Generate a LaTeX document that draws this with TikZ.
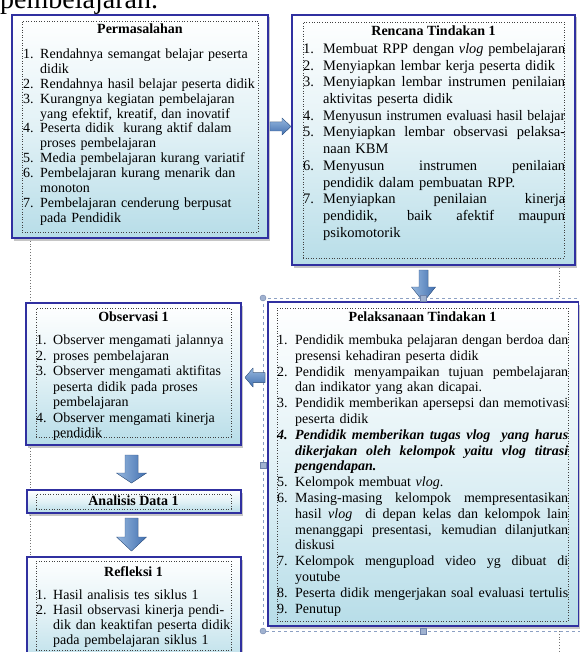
\documentclass[tikz,border=0pt]{standalone}
\usepackage{fontspec}
\setmainfont{Liberation Serif}
\usepackage{graphicx}
\usetikzlibrary{calc,shadows}

\definecolor{bxborder}{RGB}{48,48,160}
\definecolor{bxlight}{RGB}{183,221,232}
\definecolor{arrL}{RGB}{150,183,222}
\definecolor{arrD}{RGB}{66,112,176}
\definecolor{selc}{RGB}{140,160,195}
\definecolor{handlec}{RGB}{160,178,208}
\definecolor{handled}{RGB}{110,130,170}

\newsavebox\lnbox
\newlength\txtw
\newlength\numw
\newcommand\JL[1]{\sbox\lnbox{#1}\ifdim\wd\lnbox>\txtw\resizebox{\txtw}{\height}{\usebox\lnbox}\else\hbox to \txtw{\spaceskip=\fontdimen2\font plus 1fil\relax\xspaceskip=\spaceskip #1}\fi}
\newcommand\FL[1]{\sbox\lnbox{#1}\ifdim\wd\lnbox>\txtw\resizebox{\txtw}{\height}{\usebox\lnbox}\else\usebox\lnbox\fi}
\newcommand\NI[2]{\makebox[\numw][l]{#1}\FL{#2}}
\newcommand\NJ[2]{\makebox[\numw][l]{#1}\JL{#2}}
\newcommand\CI[1]{\hspace*{\numw}\FL{#1}}
\newcommand\CJ[1]{\hspace*{\numw}\JL{#1}}

% block arrow: start, end, shaft half width, head half width, head length, style
\newcommand\barrow[6]{%
  \coordinate (bH) at ($(#2)!#5!(#1)$);
  \fill[#6] ($(#1)!#3!90:(#2)$) -- ($(bH)!#3!90:(#2)$) -- ($(bH)!#4!90:(#2)$) -- (#2)
    -- ($(bH)!#4!-90:(#2)$) -- ($(bH)!#3!-90:(#2)$) -- ($(#1)!#3!-90:(#2)$) -- cycle;}

\begin{document}
\begin{tikzpicture}[x=1pt,y=1pt,
  outerbox/.style={draw=bxborder, line width=1.3pt, top color=white, bottom color=bxlight,
    middle color=bxlight!40, inner sep=0, outer sep=0, anchor=north west,
    drop shadow={shadow xshift=2pt, shadow yshift=-2.5pt, fill=black!50, opacity=.45}},
  innerbox/.style={draw=black!75, dotted, line width=0.6pt, inner sep=0, outer sep=0, anchor=north west},
  titletxt/.style={font=\fontsize{14}{16}\selectfont\bfseries, anchor=base, inner sep=0},
  listtxt/.style={anchor=base west, inner sep=0, align=left},
  harrow/.style={top color=arrL, bottom color=arrD, draw=arrD!80!black, line width=0.3pt},
  varrow/.style={left color=arrL, right color=arrD, draw=arrD!80!black, line width=0.3pt},
  guide/.style={draw=black!55, dotted, line width=0.8pt},
  selframe/.style={draw=selc, dashed, line width=0.8pt},
  handlesq/.style={fill=handlec, draw=handled, line width=0.4pt},
]
\useasboundingbox (0,0) rectangle (579,-652);

% heading fragment
\node[anchor=base west, inner sep=0, font=\fontsize{28}{30}\selectfont] (head) at (0,-9) {pembelajaran.};

% guide lines
\coordinate (g1a) at (30,-238); \coordinate (g1b) at (30,-557);
\coordinate (g2a) at (559,-265); \coordinate (g2b) at (559,-298);
\coordinate (g3a) at (559,-631); \coordinate (g3b) at (559,-652);
\draw[guide] (g1a) -- (g1b);
\draw[guide] (g2a) -- (g2b);
\draw[guide] (g3a) -- (g3b);

% selection frame round Pelaksanaan
\coordinate (sfTL) at (263,-298); \coordinate (sfBR) at (600,-631);
\draw[selframe] (sfTL) rectangle (sfBR);

% ---------- Permasalahan
\node[outerbox, minimum width=256pt, minimum height=223pt] (perm) at (12,-15) {};
\node[innerbox, minimum width=236pt, minimum height=211pt] (permIn) at (22,-21) {};
\node[titletxt] (permT) at (140,-33.5) {Permasalahan};
\node[listtxt, text width=235pt, font={\fontsize{14}{14.9}\selectfont\lineskiplimit=-100pt\setlength\numw{17pt}\setlength\txtw{218pt}}] (permL) at (23,-58.5) {%
\NI{1.}{Rendahnya semangat belajar peserta}\\
\CI{didik}\\
\NI{2.}{Rendahnya hasil belajar peserta didik}\\
\NI{3.}{Kurangnya kegiatan pembelajaran}\\
\CI{yang efektif, kreatif, dan inovatif}\\
\NI{4.}{Peserta didik\ \ kurang aktif dalam}\\
\CI{proses pembelajaran}\\
\NI{5.}{Media pembelajaran kurang variatif}\\
\NI{6.}{Pembelajaran kurang menarik dan}\\
\CI{monoton}\\
\NI{7.}{Pembelajaran cenderung berpusat}\\
\CI{pada Pendidik}};

% ---------- Rencana Tindakan 1
\node[outerbox, minimum width=283pt, minimum height=250pt] (renc) at (292,-15) {};
\node[innerbox, minimum width=261pt, minimum height=236pt] (rencIn) at (303,-22) {};
\node[titletxt] (rencT) at (433.5,-35.5) {Rencana Tindakan 1};
\node[listtxt, text width=262pt, font={\fontsize{14.5}{16.7}\selectfont\lineskiplimit=-100pt\setlength\numw{20pt}\setlength\txtw{242pt}}] (rencL) at (303,-53.5) {%
\NI{1.}{Membuat RPP dengan \textit{vlog} pembelajaran}\\
\NI{2.}{Menyiapkan lembar kerja peserta didik}\\
\NJ{3.}{Menyiapkan lembar instrumen penilaian}\\
\CI{aktivitas peserta didik}\\
\NI{4.}{Menyusun instrumen evaluasi hasil belajar}\\
\NJ{5.}{Menyiapkan lembar observasi pelaksa-}\\
\CI{naan KBM}\\
\NJ{6.}{Menyusun instrumen penilaian}\\
\CI{pendidik dalam pembuatan RPP.}\\
\NJ{7.}{Menyiapkan penilaian kinerja}\\
\CJ{pendidik, baik afektif maupun}\\
\CI{psikomotorik}};

% ---------- Pelaksanaan Tindakan 1
\node[outerbox, minimum width=310.5pt, minimum height=324pt] (pel) at (268,-302) {};
\node[innerbox, minimum width=291pt, minimum height=313pt] (pelIn) at (277,-308) {};
\node[titletxt] (pelT) at (422.5,-321.5) {Pelaksanaan Tindakan 1};
\node[listtxt, text width=291pt, font={\fontsize{14}{15.8}\selectfont\lineskiplimit=-100pt\setlength\numw{18pt}\setlength\txtw{273pt}}] (pelL) at (277,-344.5) {%
\NJ{1.}{Pendidik membuka pelajaran dengan berdoa dan}\\
\CI{presensi kehadiran peserta didik}\\
\NJ{2.}{Pendidik menyampaikan tujuan pembelajaran}\\
\CI{dan indikator yang akan dicapai.}\\
\NJ{3.}{Pendidik memberikan apersepsi dan memotivasi}\\
\CI{peserta didik}\\
{\bfseries\itshape\NJ{4.}{Pendidik memberikan tugas vlog\ \ yang harus}}\\
{\bfseries\itshape\CJ{dikerjakan oleh kelompok yaitu vlog titrasi}}\\
{\bfseries\itshape\CI{pengendapan.}}\\
\NI{5.}{Kelompok membuat \textit{vlog}.}\\
\NJ{6.}{Masing-masing kelompok mempresentasikan}\\
\CJ{hasil \textit{vlog}\ \ di depan kelas dan kelompok lain}\\
\CJ{menanggapi presentasi, kemudian dilanjutkan}\\
\CI{diskusi}\\
\NJ{7.}{Kelompok mengupload video yg dibuat di}\\
\CI{youtube}\\
\NJ{8.}{Peserta didik mengerjakan soal evaluasi tertulis}\\
\NI{9.}{Penutup}};

% ---------- Observasi 1
\node[outerbox, minimum width=215pt, minimum height=142pt] (obs) at (26,-303) {};
\node[innerbox, minimum width=195pt, minimum height=129pt] (obsIn) at (36,-308) {};
\node[titletxt] (obsT) at (133.5,-321.5) {Observasi 1};
\node[listtxt, text width=195pt, font={\fontsize{14}{15.5}\selectfont\lineskiplimit=-100pt\setlength\numw{17pt}\setlength\txtw{178pt}}] (obsL) at (36,-344.5) {%
\NI{1.}{Observer mengamati jalannya}\\
\NI{2.}{proses pembelajaran}\\
\NI{3.}{Observer mengamati aktifitas}\\
\CI{peserta didik pada proses}\\
\CI{pembelajaran}\\
\NI{4.}{Observer mengamati kinerja}\\
\CI{pendidik}};

% ---------- Analisis Data 1
\node[outerbox, minimum width=214pt, minimum height=23pt] (ana) at (27,-490) {};
\node[innerbox, minimum width=195pt, minimum height=15pt] (anaIn) at (36,-494) {};
\node[titletxt] (anaT) at (133.5,-505.5) {Analisis Data 1};

% ---------- Refleksi 1
\node[outerbox, minimum width=214pt, minimum height=113pt] (ref) at (27,-557) {};
\node[innerbox, minimum width=195pt, minimum height=89pt] (refIn) at (36,-561) {};
\node[titletxt] (refT) at (133.5,-576.5) {Refleksi 1};
\node[listtxt, text width=195pt, font={\fontsize{14}{15}\selectfont\lineskiplimit=-100pt\setlength\numw{17pt}\setlength\txtw{178pt}}] (refL) at (36,-599.5) {%
\NI{1.}{Hasil analisis tes siklus 1}\\
\NI{2.}{Hasil observasi kinerja pendi-}\\
\CI{dik dan keaktifan peserta didik}\\
\CI{pada pembelajaran siklus 1}};

% ---------- block arrows
\coordinate (a1s) at (270,-126.5); \coordinate (a1e) at (291,-126.5);
\coordinate (a2s) at (423.5,-270); \coordinate (a2e) at (423.5,-302);
\coordinate (a3s) at (265,-377.5); \coordinate (a3e) at (245,-377.5);
\coordinate (a4s) at (131.5,-455); \coordinate (a4e) at (131.5,-483);
\coordinate (a5s) at (131.5,-518); \coordinate (a5e) at (131.5,-551);
\barrow{a1s}{a1e}{4.5pt}{8.5pt}{9pt}{harrow}
\barrow{a2s}{a2e}{4.5pt}{12pt}{15pt}{varrow}
\barrow{a3s}{a3e}{5pt}{9.5pt}{8pt}{harrow}
\barrow{a4s}{a4e}{6.5pt}{15pt}{10pt}{varrow}
\barrow{a5s}{a5e}{6.5pt}{15pt}{14pt}{varrow}

% selection handles
\filldraw[handlesq] (sfTL) circle (3pt);
\filldraw[handlesq] (263,-631) circle (3pt);
\filldraw[handlesq] ($(263,-465)+(-3,-3)$) rectangle ++(6,6);
\filldraw[handlesq] ($(423.5,-298)+(-3,-3)$) rectangle ++(6,6);
\filldraw[handlesq] ($(423.5,-631)+(-3,-3)$) rectangle ++(6,6);
\end{tikzpicture}
\end{document}
